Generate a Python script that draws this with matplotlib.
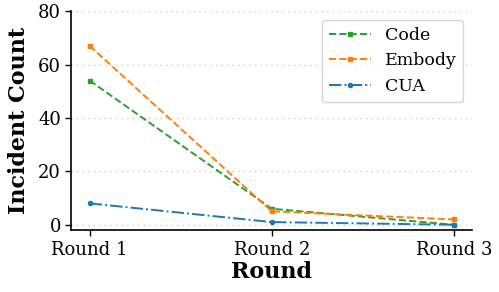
import matplotlib
matplotlib.use("Agg")
import matplotlib.pyplot as plt

rounds = ["Round 1", "Round 2", "Round 3"]
code = [54, 6, 0]
embody = [67, 5, 2]
cua = [8, 1, 0]

plt.rcParams['font.family'] = 'DejaVu Serif'

fig = plt.figure(figsize=(4.99, 2.92), dpi=100)
ax = fig.add_axes([0.143, 0.212, 0.803, 0.75])

x = range(len(rounds))
ax.plot(x, code, '--', marker='s', color='#2ca02c', markersize=3, linewidth=1.4, label='Code')
ax.plot(x, embody, '--', marker='s', color='#ff7f0e', markersize=3, linewidth=1.4, label='Embody')
ax.plot(x, cua, '-.', marker='o', color='#1f77b4', markersize=3, linewidth=1.4, label='CUA')

ax.set_xticks(list(x))
ax.set_xticklabels(rounds)
ax.set_xlim(-0.1, 2.1)
ax.set_ylim(-2, 80)
ax.set_yticks([0, 20, 40, 60, 80])
ax.tick_params(labelsize=13, width=1, length=4)
ax.set_xlabel('Round', fontsize=16, fontweight='bold', labelpad=2)
ax.set_ylabel('Incident Count', fontsize=16, fontweight='bold', labelpad=6)
ax.yaxis.grid(True, linestyle=(0, (1, 3)), color='#cccccc', linewidth=1)
ax.set_axisbelow(True)
ax.spines['top'].set_visible(False)
ax.spines['right'].set_visible(False)
ax.spines['left'].set_linewidth(1.2)
ax.spines['bottom'].set_linewidth(1.2)
ax.legend(fontsize=12.5, loc='upper right', handlelength=2.4)

fig.savefig('out.png', dpi=100)
